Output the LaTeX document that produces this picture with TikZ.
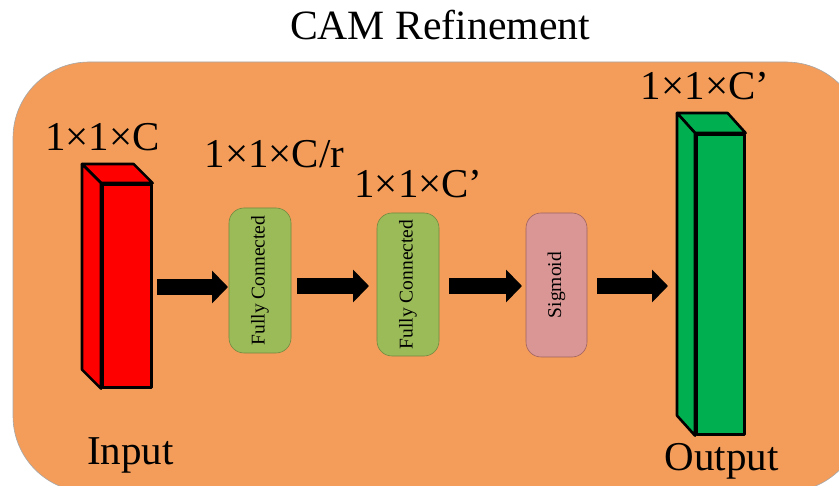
\documentclass[tikz,border=0pt]{standalone}
\usepackage{fontspec}
\setmainfont{Liberation Serif}
\usetikzlibrary{arrows.meta}
\definecolor{bgorange}{HTML}{F49D5A}
\definecolor{fcgreen}{HTML}{9BBB59}
\definecolor{fcborder}{HTML}{71893F}
\definecolor{sigpink}{HTML}{D99694}
\definecolor{sigborder}{HTML}{A0625F}
\definecolor{outgreen}{HTML}{00B050}
\tikzset{
  lbl/.style={anchor=base, inner sep=0pt, font=\fontsize{41}{41}\selectfont},
  opbox/.style={rounded corners=15pt, line width=0.6pt, inner sep=0pt},
  opfont/.style={font=\fontsize{19.5}{20}\selectfont},
  blockarrow/.style={line width=16pt, -{Triangle[length=16pt,width=32pt]}},
  cubeface/.style={line width=2.6pt, line join=round},
}
\begin{document}
\begin{tikzpicture}[x=1pt,y=-1pt]
\useasboundingbox (0,0) rectangle (839,486);
% background panel
\draw[fill=bgorange, draw=gray!70, line width=0.6pt, rounded corners=76pt] (13,62) rectangle (862,492);
% title
\node[lbl, font=\fontsize{41.7}{42}\selectfont] (title) at (440,40) {CAM Refinement};
% input cuboid
\node[draw, fill=red, cubeface, minimum width=49pt, minimum height=203pt, inner sep=0pt, anchor=north west] (inp) at (101,183) {};
\draw[cubeface, fill=red] (inp.north west) -- ++(-19,-19) -- ([shift={(-19,-19)}]inp.north east) -- (inp.north east) -- cycle;
\draw[cubeface, fill=red] (inp.north west) -- ++(-19,-19) -- ([shift={(-19,-19)}]inp.south west) -- (inp.south west) -- cycle;
% output cuboid
\node[draw, fill=outgreen, cubeface, minimum width=48pt, minimum height=300pt, inner sep=0pt, anchor=north west] (outp) at (695,133) {};
\draw[cubeface, fill=outgreen] (outp.north west) -- ++(-18,-20) -- ([shift={(-18,-20)}]outp.north east) -- (outp.north east) -- cycle;
\draw[cubeface, fill=outgreen] (outp.north west) -- ++(-18,-20) -- ([shift={(-18,-20)}]outp.south west) -- (outp.south west) -- cycle;
\coordinate (outback) at ([xshift=-18pt]outp.west);
% operation boxes
\node[opbox, draw=fcborder, fill=fcgreen, minimum width=62pt, minimum height=145pt] (fc1) at (260,280.5) {};
\node[opfont, rotate=90] (fc1t) at (fc1.center) {Fully Connected};
\node[opbox, draw=fcborder, fill=fcgreen, minimum width=62pt, minimum height=143pt] (fc2) at (408,284.5) {};
\node[opfont, rotate=90] (fc2t) at (fc2.center) {Fully Connected};
\node[opbox, draw=sigborder, fill=sigpink, minimum width=61pt, minimum height=144pt] (sig) at (556.5,285) {};
\node[opfont, rotate=90] (sigt) at (sig.center) {Sigmoid};
% arrows
\coordinate (a1s) at (157,287);
\coordinate (a1e) at (228,287);
\draw[blockarrow] (a1s) -- (a1e);
\coordinate (a2s) at (297,286);
\coordinate (a2e) at (369,286);
\draw[blockarrow] (a2s) -- (a2e);
\coordinate (a3s) at (449,286);
\coordinate (a3e) at (522,286);
\draw[blockarrow] (a3s) -- (a3e);
\coordinate (a4s) at (597,286);
\coordinate (a4e) at (668,286);
\draw[blockarrow] (a4s) -- (a4e);
% labels
\node[lbl] (l1) at (102.5,151) {1×1×C};
\node[lbl] (l2) at (274.5,168) {1×1×C/r};
\node[lbl] (l3) at (418.5,198) {1×1×C’};
\node[lbl] (l4) at (705,100) {1×1×C’};
\node[lbl] (inlbl) at (130.5,465) {Input};
\node[lbl] (outlbl) at (721.5,471) {Output};
\end{tikzpicture}
\end{document}
